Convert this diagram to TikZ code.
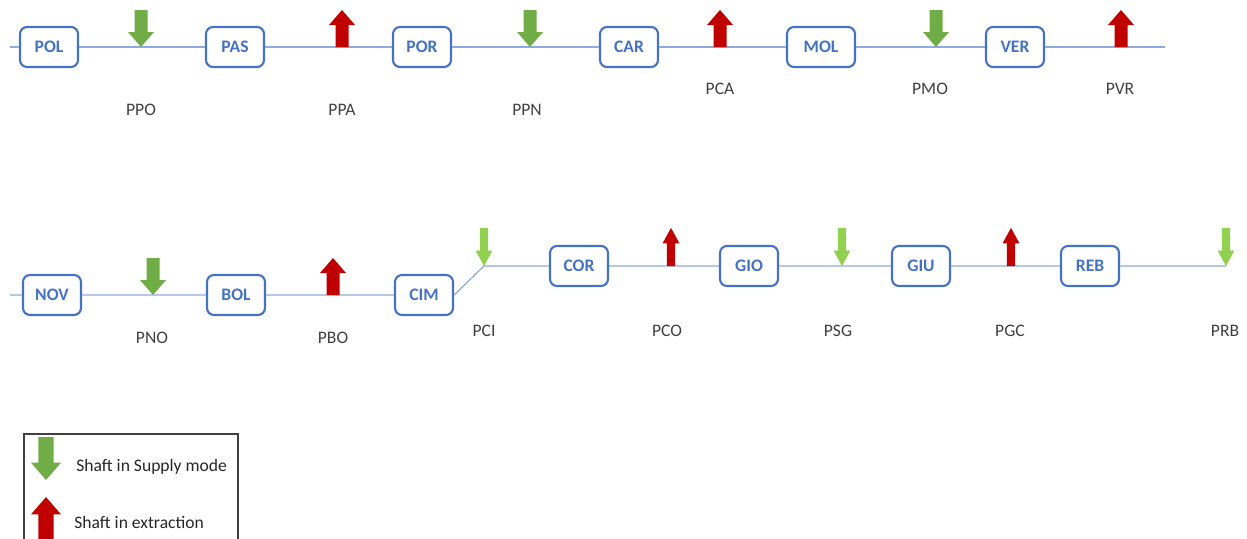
\documentclass[tikz,border=0pt]{standalone}
\usepackage{fontspec}
\setmainfont{Carlito}
\usetikzlibrary{positioning}
\definecolor{shaftgreen}{HTML}{70AD47}
\definecolor{shaftlime}{HTML}{92D050}
\definecolor{shaftred}{HTML}{C00000}
\definecolor{stationblue}{HTML}{4472C4}
\definecolor{trackblue}{HTML}{8FAADC}
\definecolor{labelgray}{HTML}{404040}
\tikzset{
  station/.style={
    rounded corners=4pt,
    draw=stationblue,
    fill=white,
    line width=1.2pt,
    minimum width=1.16cm,
    minimum height=0.8cm,
    inner sep=0pt,
    font=\bfseries,
    text=stationblue
  },
  shaftlabel/.style={
    inner sep=0pt,
    text=labelgray
  },
  track/.style={
    draw=trackblue,
    line width=0.7pt
  },
  supply/.pic={
    \fill[pic actions] (0,0) -- (-13,-15) -- (-6.5,-15) -- (-6.5,-37)
      -- (6.5,-37) -- (6.5,-15) -- (13,-15) -- cycle;
  },
  extraction/.pic={
    \fill[pic actions] (6.5,0) -- (6.5,-22) -- (13,-22) -- (0,-37)
      -- (-13,-22) -- (-6.5,-22) -- (-6.5,0) -- cycle;
  },
  small/.style={xscale=0.65,yscale=1.03}
}
\begin{document}
\begin{tikzpicture}[x=0.02cm,y=-0.02cm]
\useasboundingbox (0,0) rectangle (1247,538);
% first line
\coordinate (w1) at (10,47);
\coordinate (e1) at (1165,47);
\node[station] (pol) at (49,47) {POL};
\node[station] (pas) at (235,47) {PAS};
\node[station] (por) at (422,47) {POR};
\node[station] (car) at (629,47) {CAR};
\node[station, minimum width=1.36cm] (mol) at (821,47) {MOL};
\node[station] (ver) at (1015,47) {VER};
\draw[track] (w1) -- (pol) -- (pas) -- (por) -- (car) -- (mol) -- (ver) -- (e1);
\pic[fill=shaftgreen] at (141,47) {supply};
\pic[fill=shaftred] at (342,47) {extraction};
\pic[fill=shaftgreen] at (530,47) {supply};
\pic[fill=shaftred] at (720,47) {extraction};
\pic[fill=shaftgreen] at (936,47) {supply};
\pic[fill=shaftred] at (1121,47) {extraction};
\node[shaftlabel] (ppo) at (141,110) {PPO};
\node[shaftlabel] (ppa) at (342,110) {PPA};
\node[shaftlabel] (ppn) at (527,110) {PPN};
\node[shaftlabel] (pca) at (720,89) {PCA};
\node[shaftlabel] (pmo) at (930,89) {PMO};
\node[shaftlabel] (pvr) at (1120,89) {PVR};
% second line
\coordinate (w2) at (10,295);
\coordinate (bend) at (484,266);
\coordinate (e2) at (1226,266);
\node[station] (nov) at (52,295) {NOV};
\node[station] (bol) at (236,295) {BOL};
\node[station] (cim) at (424,295) {CIM};
\node[station] (cor) at (579,266) {COR};
\node[station] (gio) at (749,266) {GIO};
\node[station] (giu) at (921,266) {GIU};
\node[station] (reb) at (1090,266) {REB};
\draw[track] (w2) -- (nov) -- (bol) -- (cim) -- (cim.east) -- (bend) -- (cor) -- (gio) -- (giu) -- (reb) -- (e2);
\pic[fill=shaftgreen] at (153,295) {supply};
\pic[fill=shaftred] at (333,295) {extraction};
\pic[fill=shaftlime, small] at (bend) {supply};
\pic[fill=shaftred, small] at (671,266) {extraction};
\pic[fill=shaftlime, small] at (842,266) {supply};
\pic[fill=shaftred, small] at (1011,266) {extraction};
\pic[fill=shaftlime, small] at (e2) {supply};
\node[shaftlabel] (pno) at (152,338) {PNO};
\node[shaftlabel] (pbo) at (333,338) {PBO};
\node[shaftlabel] (pci) at (484,331) {PCI};
\node[shaftlabel] (pco) at (667,331) {PCO};
\node[shaftlabel] (psg) at (838,331) {PSG};
\node[shaftlabel] (pgc) at (1010,331) {PGC};
\node[shaftlabel] (prb) at (1225,331) {PRB};
% legend
\draw[labelgray, line width=0.6pt] (24,434) rectangle (238,560);
\pic[fill=shaftgreen, scale=1.16] at (46,480) {supply};
\pic[fill=shaftred, scale=1.16] at (46,540) {extraction};
\node[anchor=west, inner sep=0pt, text=black!85] (supplytext) at (76,467) {Shaft in Supply mode};
\node[anchor=west, inner sep=0pt, text=black!85] (extracttext) at (74,522) {Shaft in extraction};
\end{tikzpicture}
\end{document}
